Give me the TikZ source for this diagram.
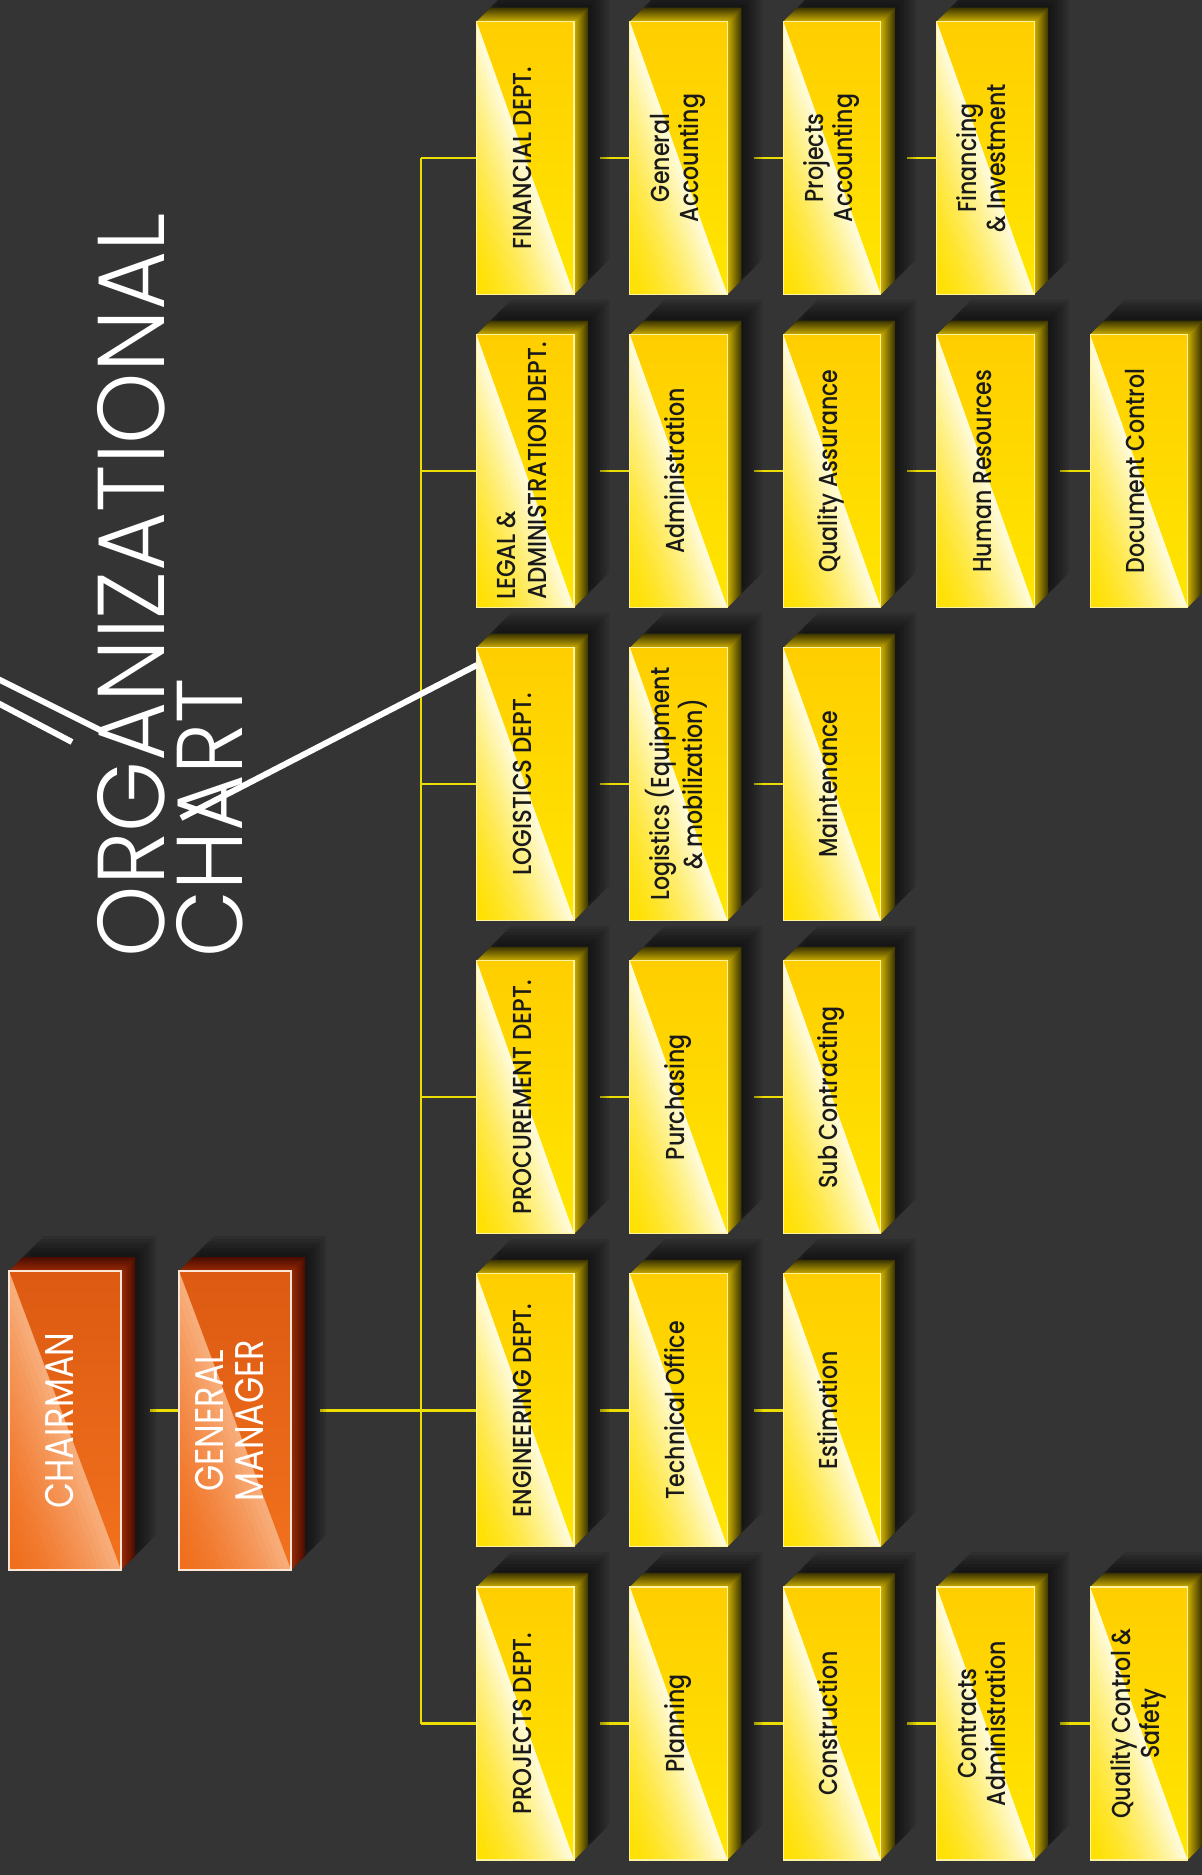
\documentclass[tikz,border=0pt]{standalone}
\usepackage{fontspec}
\usepackage{graphicx}
\setmainfont{Poppins}
\IfFontExistsTF{Poppins Light}{\newfontfamily\titlefont{Poppins Light}}{\newfontfamily\titlefont{Poppins}}
\IfFontExistsTF{Poppins Medium}{\newfontfamily\subfnt{Poppins Medium}}{\newfontfamily\subfnt{Poppins}}
\pgfdeclarelayer{bgl}
\pgfdeclarelayer{lines}
\pgfdeclarelayer{shadow}
\pgfsetlayers{bgl,lines,shadow,main}

\definecolor{bgc}{HTML}{343434}
\definecolor{ylline}{RGB}{236,222,0}
\definecolor{ytop}{HTML}{FFCE00}
\definecolor{ybot}{HTML}{FFE600}
\definecolor{ylo}{HTML}{FFE000}
\definecolor{yhi}{HTML}{FFFFFF}
\definecolor{ysideL}{HTML}{CCAE00}
\definecolor{ysideD}{HTML}{3B3400}
\definecolor{yborder}{HTML}{FFF2A0}
\definecolor{ytext}{HTML}{1A1A1A}
\definecolor{otop}{HTML}{DC5A12}
\definecolor{obot}{HTML}{F2721E}
\definecolor{olo}{HTML}{F06E1C}
\definecolor{ohi}{HTML}{FFF0E0}
\definecolor{osideL}{HTML}{9A2A06}
\definecolor{osideD}{HTML}{4A0C00}
\definecolor{oborder}{HTML}{FFE6D6}
\def\yhl{88}
\def\ohl{50}
\def\dd{14}

\tikzset{
  conn/.style={draw=ylline, line width=2.2pt},
  wl/.style={draw=white, line width=6pt},
}

% generic 3D box: #1 name, #2 x, #3 y, #4 w, #5 h, #6 scheme, #7 content
\newcommand\GBox[7]{%
  \pgfmathsetmacro\xa{#2}\pgfmathsetmacro\ya{#3}%
  \pgfmathsetmacro\xb{#2+#4}\pgfmathsetmacro\yb{#3+#5}%
  \begin{pgfonlayer}{shadow}
    \foreach \s in {3,6,9,12,15,18,21}{
      \fill[black,opacity=0.1] (\xa+\s,\yb-\s) -- (\xa+\s,\ya-\s) -- (\xa+\dd+\s,\ya-\dd-\s) -- (\xb+\dd+\s,\ya-\dd-\s) -- (\xb+\dd+\s,\yb-\dd-\s) -- (\xb+\s,\yb-\s) -- cycle;
    }
  \end{pgfonlayer}
  \shade[top color=#6sideD, bottom color=#6sideL] (\xa,\ya) -- (\xa+\dd,\ya-\dd) -- (\xb+\dd,\ya-\dd) -- (\xb,\ya) -- cycle;
  \shade[left color=#6sideL, right color=#6sideD] (\xb,\ya) -- (\xb+\dd,\ya-\dd) -- (\xb+\dd,\yb-\dd) -- (\xb,\yb) -- cycle;
  \shade[top color=#6top, bottom color=#6bot] (\xa,\ya) rectangle (\xb,\yb);
  \foreach \k in {0,...,19}{
    \pgfmathsetmacro\myt{\k/20}
    \pgfmathsetmacro\wp{\csname #6hl\endcsname*(1-(\k+0.5)/20)^1.5}
    \fill[#6hi!\wp!#6lo] (\xa,\ya+\myt*#5) -- (\xb-\myt*#4,\yb) -- (\xa,\yb) -- cycle;
  }
  \draw[#6border, line width=1.1pt] (\xa,\ya) rectangle (\xb,\yb);
  \node[inner sep=0pt, minimum width=#4pt, minimum height=#5pt] (#1) at ({(\xa+\xb)/2},{(\ya+\yb)/2}) {#7};
}
\newcommand\YB[4]{%
  \pgfmathsetmacro\bx{476.5+153.4*#2}\pgfmathsetmacro\by{21.5+313.1*#3}%
  \GBox{#1}{\bx}{\by}{97.5}{273}{y}{#4}}
\newcommand\DL[1]{\rotatebox{90}{\color{ytext}\scalebox{0.88}[1]{\subfnt\fontsize{26}{31}\selectfont\begin{tabular}{@{}l@{}}#1\end{tabular}}}}
\newcommand\SL[1]{\rotatebox{90}{\color{ytext}\scalebox{0.85}[1]{\subfnt\fontsize{26}{29}\selectfont\begin{tabular}{@{}c@{}}#1\end{tabular}}}}
\newcommand\OL[1]{\rotatebox{90}{\color{white}\scalebox{0.84}[1]{\fontsize{40}{40}\selectfont\begin{tabular}{@{}c@{}}#1\end{tabular}}}}

\begin{document}
\begin{tikzpicture}[x=1pt,y=-1pt]
\useasboundingbox (0,0) rectangle (1202,1875);
\begin{pgfonlayer}{bgl}
  \fill[bgc] (0,0) rectangle (1202,1875);
\end{pgfonlayer}

% top management
\GBox{chair}{9}{1271}{112}{299}{o}{\OL{CHAIRMAN}}
\GBox{gm}{179}{1271}{112}{299}{o}{\OL{GENERAL\\MANAGER}}

% row 0: financial
\YB{fin}{0}{0}{\DL{FINANCIAL DEPT.}}
\YB{fin1}{1}{0}{\SL{General\\Accounting}}
\YB{fin2}{2}{0}{\SL{Projects\\Accounting}}
\YB{fin3}{3}{0}{\SL{Financing\\\& Investment}}
% row 1: legal
\YB{leg}{0}{1}{\DL{LEGAL \&\\ADMINISTRATION DEPT.}}
\YB{leg1}{1}{1}{\SL{Administration}}
\YB{leg2}{2}{1}{\SL{Quality Assurance}}
\YB{leg3}{3}{1}{\SL{Human Resources}}
\YB{leg4}{4}{1}{\SL{Document Control}}
% row 2: logistics
\YB{logi}{0}{2}{\DL{LOGISTICS DEPT.}}
\YB{logi1}{1}{2}{\SL{Logistics (Equipment\\\& mobilization)}}
\YB{logi2}{2}{2}{\SL{Maintenance}}
% row 3: procurement
\YB{proc}{0}{3}{\DL{PROCUREMENT DEPT.}}
\YB{proc1}{1}{3}{\SL{Purchasing}}
\YB{proc2}{2}{3}{\SL{Sub Contracting}}
% row 4: engineering
\YB{eng}{0}{4}{\DL{ENGINEERING DEPT.}}
\YB{eng1}{1}{4}{\SL{Technical Office}}
\YB{eng2}{2}{4}{\SL{Estimation}}
% row 5: projects
\YB{proj}{0}{5}{\DL{PROJECTS DEPT.}}
\YB{proj1}{1}{5}{\SL{Planning}}
\YB{proj2}{2}{5}{\SL{Construction}}
\YB{proj3}{3}{5}{\SL{Contracts\\Administration}}
\YB{proj4}{4}{5}{\SL{Quality Control \&\\Safety}}

% connectors
\begin{pgfonlayer}{lines}
  \coordinate (bus) at (421,0);
  \draw[conn] (bus |- fin.west) -- (bus |- proj.west);
  \foreach \n in {fin,leg,logi,proc,eng,proj}{
    \draw[conn] (bus |- \n.west) -- (\n.west);
  }
  \draw[conn] ([xshift=29pt]chair.east |- eng.west) -- (gm.west |- eng.west);
  \draw[conn] ([xshift=29pt]gm.east |- eng.west) -- (bus |- eng.west);
  \foreach \a/\b in {fin/fin1,fin1/fin2,fin2/fin3,leg/leg1,leg1/leg2,leg2/leg3,leg3/leg4,
                     logi/logi1,logi1/logi2,proc/proc1,proc1/proc2,eng/eng1,eng1/eng2,
                     proj/proj1,proj1/proj2,proj2/proj3,proj3/proj4}{
    \draw[conn] ([xshift=26pt]\a.east) -- (\b.west);
  }
\end{pgfonlayer}

% title
\node[rotate=90, inner sep=0pt, text=white] (title1) at (131.5,585) {\resizebox{744pt}{67pt}{\titlefont ORGANIZATIONAL}};
\node[rotate=90, inner sep=0pt, text=white] (title2) at (210,818) {\resizebox{278pt}{66pt}{\titlefont CHART}};

% white accent lines
\coordinate (lA) at (-6,677);
\coordinate (aO) at (100,730);
\coordinate (lB) at (-6,701);
\coordinate (lB2) at (72,742);
\coordinate (aC) at (181,818);
\coordinate (lE) at (477,665);
\draw[wl] (lA) -- (aO);
\draw[wl] (lB) -- (lB2);
\draw[wl] (aC) -- (lE);
\end{tikzpicture}
\end{document}
